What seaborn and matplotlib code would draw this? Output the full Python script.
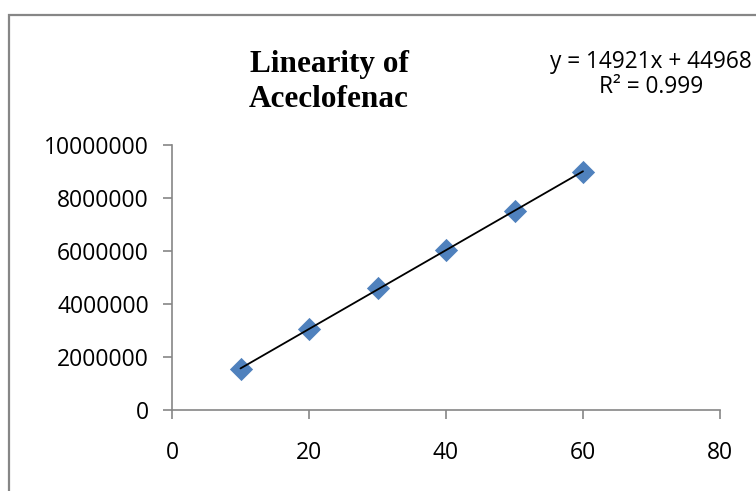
import seaborn as sns
import matplotlib.pyplot as plt
from matplotlib.patches import Rectangle

# concentration (x) vs peak area (y)
conc = [10, 20, 30, 40, 50, 60]
area = [1540000, 3050000, 4590000, 6050000, 7520000, 8980000]

x_ticks = [0, 20, 40, 60, 80]
y_ticks = [0, 2000000, 4000000, 6000000, 8000000, 10000000]
y_labels = [str(v) for v in y_ticks]

title_lines = ["Linearity of", "Aceclofenac"]
eq_lines = ["y = 14921x + 44968", "R\u00b2 = 0.999"]

sns.set_style("white")
plt.rcParams['font.family'] = ['Open Sans', 'DejaVu Sans']
plt.rcParams['text.color'] = 'black'

W, H = 756, 491
fig = plt.figure(figsize=(W / 100, H / 100), dpi=100)
ax = fig.add_axes([172 / W, 1 - 410 / H, (720 - 172) / W, (410 - 145) / H])

sns.regplot(x=conc, y=area, ax=ax, ci=None, marker="D",
            scatter_kws={"s": 140, "color": "#4F81BD", "alpha": 1, "linewidths": 0},
            line_kws={"color": "black", "lw": 1.3})

ax.set_xlim(0, 80)
ax.set_ylim(0, 10000000)
ax.set_xticks(x_ticks)
ax.set_xticklabels([str(v) for v in x_ticks])
ax.set_yticks(y_ticks)
ax.set_yticklabels(y_labels)

grey = "#868686"
for side in ["top", "right"]:
    ax.spines[side].set_visible(False)
for side in ["left", "bottom"]:
    ax.spines[side].set_color(grey)
    ax.spines[side].set_linewidth(1.2)
ax.tick_params(axis="both", direction="out", length=6.5, width=1.2,
               color=grey, labelsize=16.5, labelcolor="black",
               bottom=True, left=True)
ax.tick_params(axis="x", pad=16)
ax.tick_params(axis="y", pad=10)
ax.set_xlabel("")
ax.set_ylabel("")

# chart title (two centred lines, bold serif)
for txt, yb in zip(title_lines, [72, 107]):
    fig.text(329 / W, 1 - yb / H, txt, ha="center", va="baseline", color="black",
             fontsize=22.5, fontweight="bold", family=["Liberation Serif"])

# trendline equation
for txt, yb in zip(eq_lines, [68, 93]):
    fig.text(651 / W, 1 - yb / H, txt, ha="center", va="baseline",
             color="black", fontsize=16.3)

# outer chart border, cut off on the right and bottom
fig.patches.append(Rectangle((9 / W, -0.5), 2, 0.5 + 1 - 15 / H,
                             transform=fig.transFigure, fill=False,
                             edgecolor=grey, lw=1.6))

fig.savefig("out.png", dpi=100)
